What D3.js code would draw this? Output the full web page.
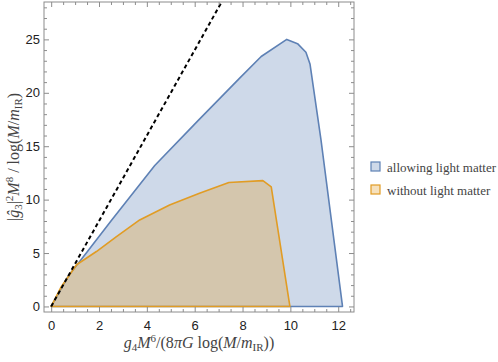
<!DOCTYPE html>
<html>
<head>
<meta charset="utf-8">
<script src="https://cdn.jsdelivr.net/npm/d3@7"></script>
<style>
  body { margin: 0; background: #fff; }
</style>
</head>
<body>
<div id="chart"></div>
<script>
// size and plot box
const width = 498;
const height = 362;
const margin = {top: 2, right: 144, bottom: 50, left: 44};
const chart_width = width - margin.left - margin.right;
const chart_height = height - margin.top - margin.bottom;
const serif = "'Liberation Serif', 'DejaVu Serif', serif";
const sans = "'Liberation Sans', Arial, sans-serif";

// data
const xTicks = [0, 2, 4, 6, 8, 10, 12];
const yTicks = [0, 5, 10, 15, 20, 25];

const allowingX = [0, 0.35, 0.7, 1.5, 2.5, 4.33, 6.1, 7.87, 8.78, 9.85, 10.3, 10.65, 10.82, 11.28, 12.18];
const allowingY = [0, 1.4, 2.8, 5.1, 8.0, 13.2, 17.3, 21.35, 23.4, 25.0, 24.6, 23.8, 22.7, 15.6, 0];

const withoutX = [0, 0.43, 1.06, 1.89, 2.73, 3.7, 4.95, 6.2, 7.43, 8.85, 9.2, 9.98];
const withoutY = [0, 1.87, 3.9, 5.14, 6.54, 8.1, 9.5, 10.6, 11.6, 11.78, 11.2, 0];

const boundX = [0, 7.3];
const boundY = [0, 29.2];

const seriesNames = ["allowing light matter", "without light matter"];
const seriesColors = ["#5e81b5", "#e19c24"];

// scales
var x_scale = d3.scaleLinear()
    .domain([-0.3, 12.66])
    .range([0, chart_width]);

var y_scale = d3.scaleLinear()
    .domain([-0.52, 28.5])
    .range([chart_height, 0]);

var svg = d3.select("#chart")
    .append("svg")
    .attr("width", width)
    .attr("height", height);

var g = svg.append("g")
    .attr("transform", `translate(${margin.left}, ${margin.top})`);

g.append("clipPath").attr("id", "clip")
    .append("rect")
    .attr("width", chart_width)
    .attr("height", chart_height);

var plot = g.append("g").attr("clip-path", "url(#clip)");

// closed region along y = 0
function region(xs, ys) {
    var pts = xs.map((x, i) => [x_scale(x), y_scale(ys[i])]);
    return d3.line()(pts) + "Z";
}

plot.append("path")
    .attr("d", region(allowingX, allowingY))
    .attr("fill", seriesColors[0])
    .attr("fill-opacity", 0.3)
    .attr("stroke", seriesColors[0])
    .attr("stroke-width", 1.6)
    .attr("stroke-linejoin", "round");

plot.append("path")
    .attr("d", region(withoutX, withoutY))
    .attr("fill", seriesColors[1])
    .attr("fill-opacity", 0.3)
    .attr("stroke", seriesColors[1])
    .attr("stroke-width", 1.6)
    .attr("stroke-linejoin", "round");

plot.append("path")
    .attr("d", d3.line()(boundX.map((x, i) => [x_scale(x), y_scale(boundY[i])])))
    .attr("fill", "none")
    .attr("stroke", "#000")
    .attr("stroke-width", 2)
    .attr("stroke-dasharray", "4,3");

// frame with inward ticks on all four sides
const frameColor = "#8c8c8c";
const xMinor = d3.range(0, 12.51, 0.5).filter(v => v % 2 !== 0);
const yMinor = d3.range(0, 28.01, 1).filter(v => v % 5 !== 0);

function frameAxis(axisFn, scale, major, minor, transform, labels) {
    var a = g.append("g").attr("transform", transform);
    a.call(axisFn(scale).tickValues(minor).tickSize(-3).tickFormat(""));
    a.append("g").call(axisFn(scale).tickValues(major).tickSize(-5)
        .tickFormat(labels ? d3.format("d") : ""));
    a.selectAll(".domain").remove();
    a.selectAll("line").attr("stroke", frameColor);
    a.selectAll("text")
        .attr("fill", "#222")
        .style("font-family", sans)
        .style("font-size", "13px");
    return a;
}

var xb = frameAxis(d3.axisBottom, x_scale, xTicks, xMinor, `translate(0, ${chart_height})`, true);
xb.selectAll("text").attr("dy", "0").attr("y", 18);
frameAxis(d3.axisTop, x_scale, xTicks, xMinor, "translate(0, 0)", false);
var yl = frameAxis(d3.axisLeft, y_scale, yTicks, yMinor, "translate(0, 0)", true);
yl.selectAll("text").attr("x", -4);
frameAxis(d3.axisRight, y_scale, yTicks, yMinor, `translate(${chart_width}, 0)`, false);

g.append("rect")
    .attr("width", chart_width)
    .attr("height", chart_height)
    .attr("fill", "none")
    .attr("stroke", frameColor)
    .attr("stroke-width", 1);

// axis labels with math parts
function mathLabel(sel, parts) {
    parts.forEach(p => {
        var t = sel.append("tspan").text(p.t);
        if (p.i) t.style("font-style", "italic");
        if (p.s) t.style("font-size", p.s);
        if (p.b) t.attr("baseline-shift", p.b);
    });
}

var xlab = svg.append("text")
    .attr("x", margin.left + chart_width / 2)
    .attr("y", 348)
    .attr("text-anchor", "middle")
    .style("font-family", serif)
    .style("font-size", "16px")
    .attr("fill", "#444");
mathLabel(xlab, [
    {t: "g", i: true}, {t: "4", s: "11px", b: "-3"},
    {t: "M", i: true}, {t: "6", s: "11px", b: "6"},
    {t: "/(8"}, {t: "π", i: true}, {t: "G", i: true},
    {t: " log("}, {t: "M", i: true}, {t: "/"}, {t: "m", i: true},
    {t: "IR", s: "11px", b: "-3"}, {t: "))"}
]);

var ylab = svg.append("text")
    .attr("transform", `translate(19, ${margin.top + chart_height / 2}) rotate(-90)`)
    .attr("text-anchor", "middle")
    .style("font-family", serif)
    .style("font-size", "16px")
    .attr("fill", "#444");
mathLabel(ylab, [
    {t: "|"}, {t: "ĝ", i: true}, {t: "3", s: "11px", b: "-3"}, {t: "|"},
    {t: "2", s: "11px", b: "6"}, {t: "M", i: true}, {t: "8", s: "11px", b: "6"},
    {t: " / log("}, {t: "M", i: true}, {t: "/"}, {t: "m", i: true},
    {t: "IR", s: "11px", b: "-3"}, {t: ")"}
]);

// legend
var legend = svg.append("g").attr("transform", "translate(371, 162)");
seriesNames.forEach((name, i) => {
    var row = legend.append("g").attr("transform", `translate(0, ${i * 23})`);
    row.append("rect")
        .attr("width", 9).attr("height", 9)
        .attr("fill", seriesColors[i]).attr("fill-opacity", 0.3)
        .attr("stroke", seriesColors[i]).attr("stroke-width", 1.2);
    row.append("text")
        .attr("x", 16).attr("y", 9.5)
        .style("font-family", serif)
        .style("font-size", "13px")
        .attr("fill", "#444")
        .text(name);
});
</script>
</body>
</html>
